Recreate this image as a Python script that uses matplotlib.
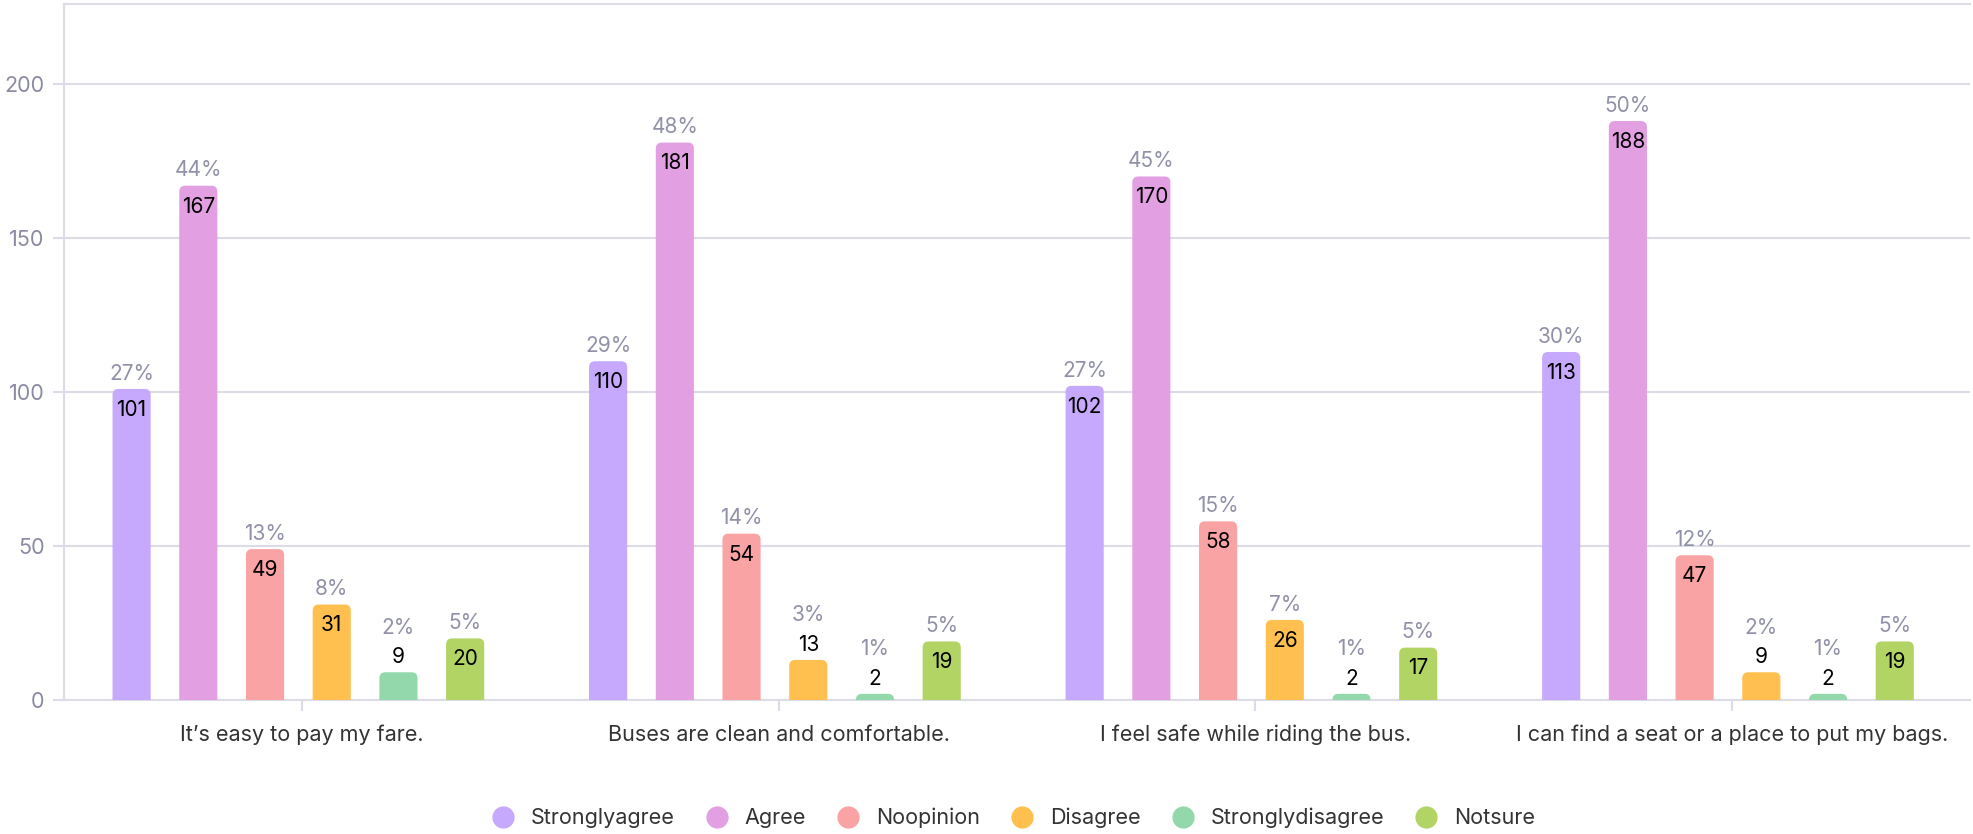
import matplotlib.pyplot as plt
import numpy as np
from matplotlib.patches import FancyBboxPatch
from matplotlib.lines import Line2D

plt.rcParams['font.family'] = ['Inter', 'DejaVu Sans']

categories = ["It\u2019s easy to pay my fare.", "Buses are clean and comfortable.",
              "I feel safe while riding the bus.", "I can find a seat or a place to put my bags."]
series = ["Stronglyagree", "Agree", "Noopinion", "Disagree", "Stronglydisagree", "Notsure"]
stronglyagree = [101, 110, 102, 113]
agree = [167, 181, 170, 188]
noopinion = [49, 54, 58, 47]
disagree = [31, 13, 26, 9]
stronglydisagree = [9, 2, 2, 2]
notsure = [20, 19, 17, 19]
values = [stronglyagree, agree, noopinion, disagree, stronglydisagree, notsure]
colors = ["#C6A8FC", "#E2A0E3", "#F9A3A4", "#FFC04F", "#93D8AB", "#B2D465"]

fig = plt.figure(figsize=(19.73, 8.34), dpi=100)
ax = fig.add_axes([0.0324, 0.1607, 0.9661, 0.8345])

x = np.arange(len(categories))
pitch = 0.14
width = 0.08
ax.set_xlim(-0.5, 3.5)
ax.set_ylim(0, 226)

# data units per pixel, for rounded tops
fig.canvas.draw()
p0 = ax.transData.transform((0, 0))
p1 = ax.transData.transform((1, 1))
dx = 1 / (p1[0] - p0[0])
dy = 1 / (p1[1] - p0[1])
r = 6 * dx

totals = np.sum(np.array(values), axis=0)
for i, (vals, col) in enumerate(zip(values, colors)):
    xs = x + (i - 2.5) * pitch - 0.008
    for xi, v, tot in zip(xs, vals, totals):
        patch = FancyBboxPatch((xi - width / 2, -10), width, v + 10,
                               boxstyle=f"round,pad=0,rounding_size={r}",
                               mutation_aspect=dy / dx, facecolor=col,
                               edgecolor="none", zorder=3, clip_on=True)
        ax.add_patch(patch)
        pct = f"{round(100 * v / tot)}%"
        if v >= 15:
            ax.annotate(str(v), (xi, v), xytext=(0, -15), textcoords="offset points",
                        ha="center", va="center", fontsize=15, color="black", zorder=4)
            ax.annotate(pct, (xi, v), xytext=(0, 11), textcoords="offset points",
                        ha="center", va="center", fontsize=15, color="#9090A8", zorder=4)
        else:
            ax.annotate(str(v), (xi, v), xytext=(0, 11), textcoords="offset points",
                        ha="center", va="center", fontsize=15, color="black", zorder=4)
            ax.annotate(pct, (xi, v), xytext=(0, 32), textcoords="offset points",
                        ha="center", va="center", fontsize=15, color="#9090A8", zorder=4)

grid_col = "#DCDCE8"
ax.set_yticks([0, 50, 100, 150, 200])
ax.yaxis.grid(True, color=grid_col, linewidth=1.5, zorder=0)
ax.set_axisbelow(True)
ax.set_xticks(x)
ax.set_xticklabels(categories, fontsize=15.5, color="#333333")
ax.tick_params(axis="x", length=8, color=grid_col, width=1.5, pad=10)
ax.tick_params(axis="y", length=8, color=grid_col, width=1.5, labelsize=15.5,
               labelcolor="#8A8AA2", pad=6)
for s in ["left", "bottom", "top"]:
    ax.spines[s].set_color(grid_col)
    ax.spines[s].set_linewidth(1.5)
ax.spines["right"].set_visible(False)

handles = [Line2D([], [], marker="o", linestyle="none", markersize=16,
                  markerfacecolor=c, markeredgecolor="none") for c in colors]
fig.legend(handles, series, loc="center", bbox_to_anchor=(0.511, 0.019), ncol=6,
           frameon=False, fontsize=15.5, handletextpad=0.3, columnspacing=0.95,
           labelcolor="#333333")

fig.savefig("out.png", dpi=100)
